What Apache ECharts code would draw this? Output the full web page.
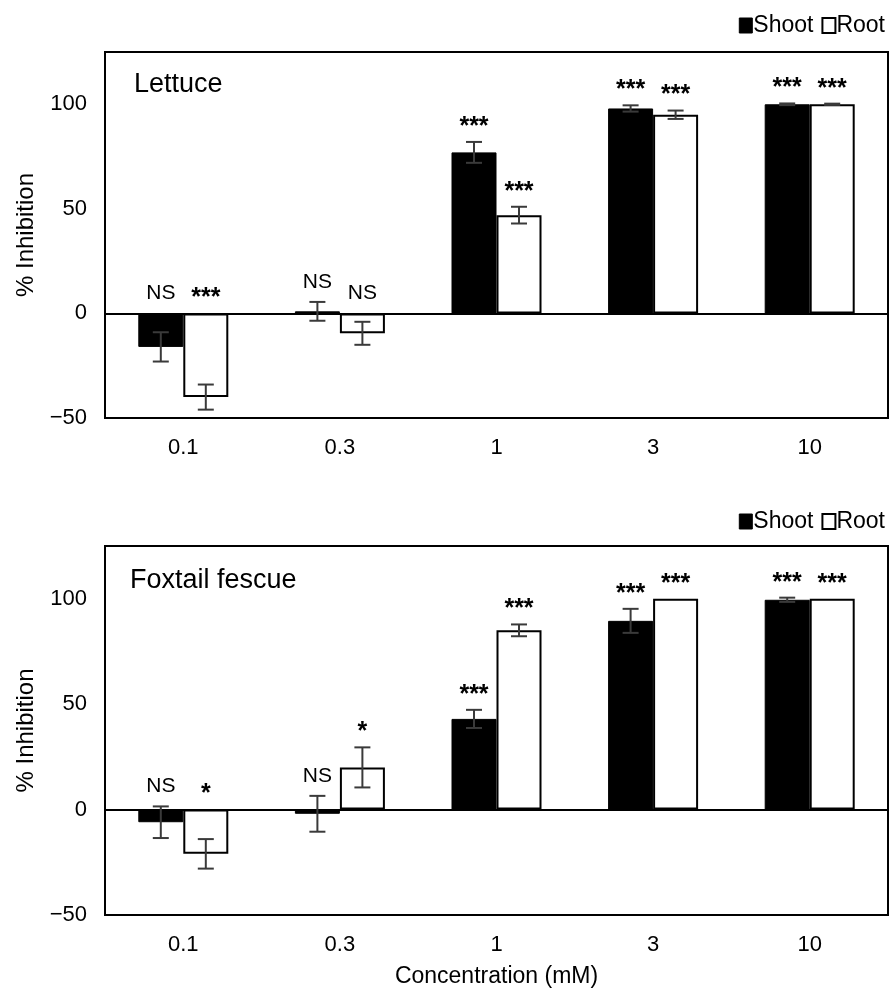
<!DOCTYPE html>
<html>
<head>
<meta charset="UTF-8">
<title>% Inhibition</title>
<script src="https://cdn.jsdelivr.net/npm/echarts@6/dist/echarts.min.js"></script>
<style>
  html, body {margin: 0; padding: 0; background: #fff;}
  #chart {width: 889px; height: 999px;}
</style>
</head>
<body>
<div id="chart"></div>
<script>
// concentrations (mM)
const concentrations = ['0.1', '0.3', '1', '3', '10'];

// lettuce
const lettuceShoot = [-16, 1, 77, 98, 100];
const lettuceShootErr = [7, 4.5, 5, 1.5, 0.4];
const lettuceRoot = [-40, -9.5, 47, 95, 100];
const lettuceRootErr = [6, 5.5, 4, 2, 0.3];
const lettuceShootSig = ['NS', 'NS', '***', '***', '***'];
const lettuceRootSig = ['***', 'NS', '***', '***', '***'];

// foxtail fescue
const fescueShoot = [-6, -2, 43, 89.5, 99.5];
const fescueShootErr = [7.5, 8.5, 4.3, 5.7, 1];
const fescueRoot = [-21, 20, 85, 100, 100];
const fescueRootErr = [7, 9.5, 2.8, 0, 0];
const fescueShootSig = ['NS', 'NS', '***', '***', '***'];
const fescueRootSig = ['*', '*', '***', '***', '***'];

const yMin = -50, yMax = 125, yStep = 50;

const FONT = 'Liberation Sans, Arial, sans-serif';
const BAR_W = 45;

function barSeries(name, values, gi, filled) {
  return {
    name: name,
    type: 'bar',
    xAxisIndex: gi,
    yAxisIndex: gi,
    data: values,
    barWidth: BAR_W,
    barGap: '0%',
    itemStyle: filled
      ? {color: '#000', borderColor: '#000', borderWidth: 1}
      : {color: '#fff', borderColor: '#000', borderWidth: 2},
    z: 2
  };
}

// error bars + significance text, drawn as one custom series
function errSeries(values, errs, sigs, side, gi) {
  return {
    type: 'custom',
    xAxisIndex: gi,
    yAxisIndex: gi,
    silent: true,
    z: 5,
    data: values.map((v, i) => [i, v, errs[i]]),
    encode: {x: 0, y: 1},
    renderItem: function (params, api) {
      const i = api.value(0), v = api.value(1), e = api.value(2);
      const x = api.coord([i, v])[0] + side * BAR_W / 2;
      const yTop = api.coord([i, v + e])[1];
      const yBot = api.coord([i, v - e])[1];
      const yLab = api.coord([i, Math.max(0, v + e)])[1];
      const cap = 8;
      const ls = {stroke: '#3a3a3a', lineWidth: 2};
      const kids = [];
      if (e > 0) {
        kids.push({type: 'line', shape: {x1: x, y1: yTop, x2: x, y2: yBot}, style: ls});
        kids.push({type: 'line', shape: {x1: x - cap, y1: yTop, x2: x + cap, y2: yTop}, style: ls});
        kids.push({type: 'line', shape: {x1: x - cap, y1: yBot, x2: x + cap, y2: yBot}, style: ls});
      }
      const sig = sigs[params.dataIndex];
      const stars = sig.indexOf('*') >= 0;
      kids.push({
        type: 'text',
        x: x,
        y: stars ? yLab - 15 : yLab - 20,
        style: {
          text: sig,
          fill: '#000',
          fontSize: stars ? 25 : 21,
          fontWeight: stars ? 'bold' : 'normal',
          fontFamily: FONT,
          align: 'center',
          verticalAlign: 'middle'
        }
      });
      return {type: 'group', children: kids};
    }
  };
}

const zeroLine = {
  silent: true,
  symbol: 'none',
  label: {show: false},
  lineStyle: {color: '#000', width: 2, type: 'solid'},
  data: [{yAxis: 0}]
};

function xAxis(gi, showName) {
  return {
    type: 'category',
    gridIndex: gi,
    data: concentrations,
    axisLine: {show: false},
    axisTick: {show: false},
    axisLabel: {color: '#000', fontSize: 22, fontFamily: FONT, margin: 19},
    name: showName ? 'Concentration (mM)' : '',
    nameLocation: 'middle',
    nameGap: 50,
    nameTextStyle: {color: '#000', fontSize: 23, fontFamily: FONT}
  };
}

function yAxis(gi) {
  return {
    type: 'value',
    gridIndex: gi,
    min: yMin,
    max: yMax,
    interval: yStep,
    axisLine: {show: false},
    axisTick: {show: false},
    splitLine: {show: false},
    axisLabel: {
      color: '#000', fontSize: 22, fontFamily: FONT, margin: 18, showMaxLabel: false,
      formatter: v => String(v).replace('-', '\u2212')
    },
    name: '% Inhibition',
    nameLocation: 'middle',
    nameGap: 62,
    nameTextStyle: {color: '#000', fontSize: 24, fontFamily: FONT}
  };
}

function legend(top) {
  return {
    top: top,
    right: 4,
    padding: 0,
    itemGap: 8,
    itemWidth: 13,
    itemHeight: 15,
    icon: 'rect',
    selectedMode: false,
    textStyle: {color: '#000', fontSize: 23, fontFamily: FONT, padding: [0, 0, 0, -4]},
    data: [
      {name: 'Shoot', itemStyle: {color: '#000', borderColor: '#000', borderWidth: 1}},
      {name: 'Root', itemStyle: {color: '#fff', borderColor: '#000', borderWidth: 2}}
    ]
  };
}

const chart = echarts.init(document.getElementById('chart'), null, {renderer: 'canvas'});

const shoot1 = barSeries('Shoot', lettuceShoot, 0, true);
shoot1.markLine = zeroLine;
const shoot2 = barSeries('Shoot', fescueShoot, 1, true);
shoot2.markLine = zeroLine;

chart.setOption({
  backgroundColor: '#fff',
  animation: false,
  title: [
    {text: 'Lettuce', left: 134, top: 71, padding: 0,
      textStyle: {color: '#000', fontSize: 27, fontWeight: 'normal', fontFamily: FONT}},
    {text: 'Foxtail fescue', left: 130, top: 567, padding: 0,
      textStyle: {color: '#000', fontSize: 27, fontWeight: 'normal', fontFamily: FONT}}
  ],
  legend: [legend(14), legend(510)],
  grid: [
    {left: 105, right: 1, top: 52, height: 366, show: true, borderColor: '#000', borderWidth: 2},
    {left: 105, right: 1, top: 546, height: 369, show: true, borderColor: '#000', borderWidth: 2}
  ],
  xAxis: [xAxis(0, false), xAxis(1, true)],
  yAxis: [yAxis(0), yAxis(1)],
  series: [
    shoot1,
    barSeries('Root', lettuceRoot, 0, false),
    errSeries(lettuceShoot, lettuceShootErr, lettuceShootSig, -1, 0),
    errSeries(lettuceRoot, lettuceRootErr, lettuceRootSig, 1, 0),
    shoot2,
    barSeries('Root', fescueRoot, 1, false),
    errSeries(fescueShoot, fescueShootErr, fescueShootSig, -1, 1),
    errSeries(fescueRoot, fescueRootErr, fescueRootSig, 1, 1)
  ]
});
</script>
</body>
</html>
